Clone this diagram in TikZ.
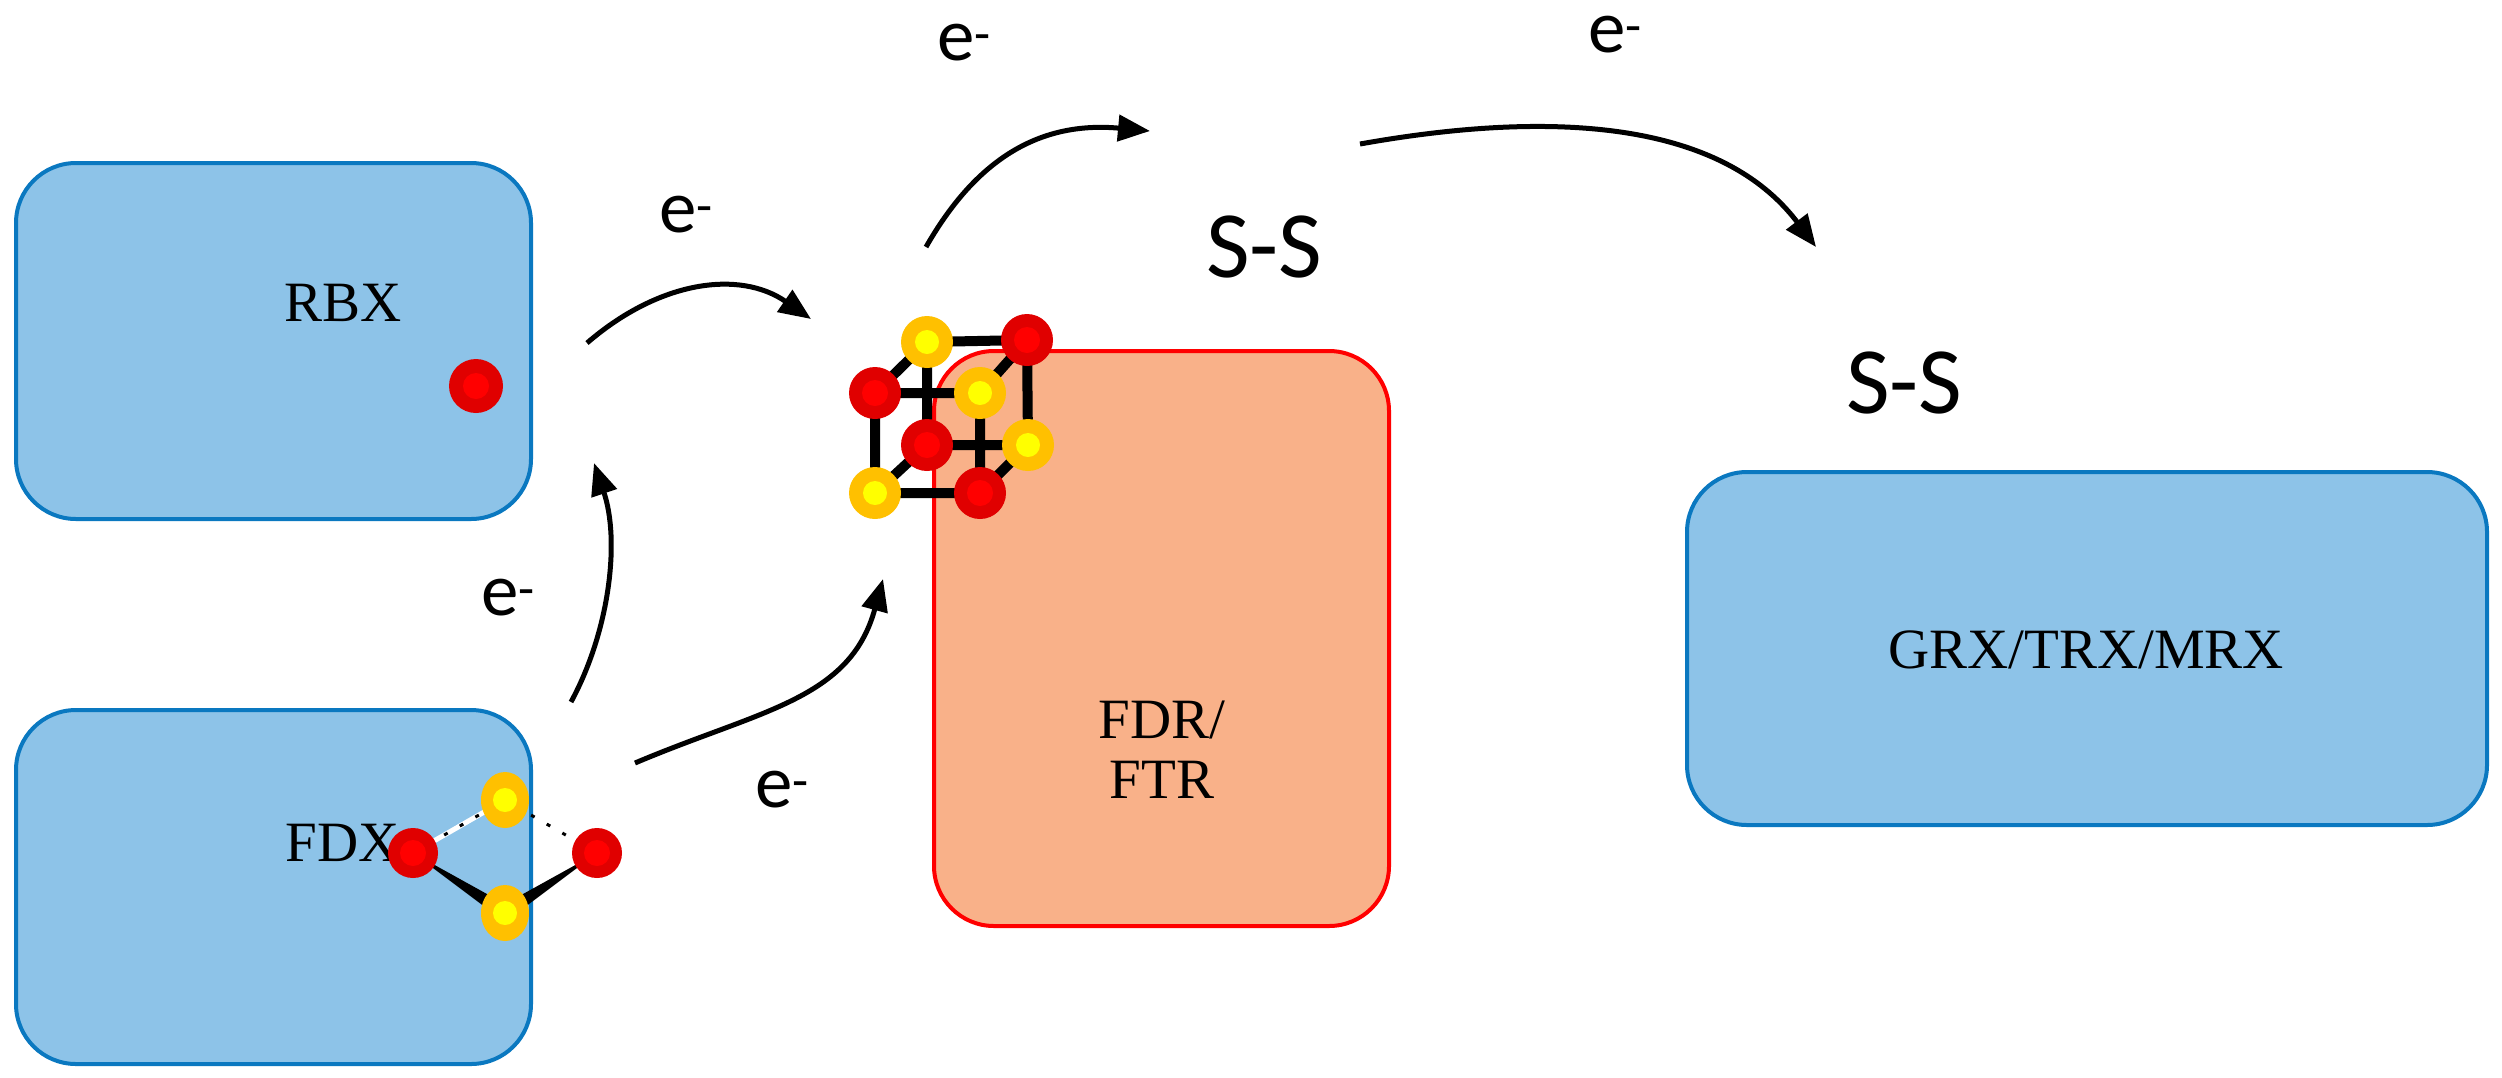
\documentclass[tikz,border=0pt]{standalone}
\usepackage{fontspec}
\setmainfont{Liberation Serif}
\newfontfamily\sans{Carlito}
\usetikzlibrary{arrows.meta,calc,shapes.geometric}
\definecolor{boxblue}{HTML}{8DC3E8}
\definecolor{edgeblue}{HTML}{0A78C0}
\definecolor{boxorange}{HTML}{F9B189}
\definecolor{atomred}{HTML}{E00000}
\definecolor{atomredin}{HTML}{FF0000}
\definecolor{atomyel}{HTML}{FFC000}
\definecolor{atomyelin}{HTML}{FFFF00}
\begin{document}
\begin{tikzpicture}[x=1pt,y=-1pt,
  prot/.style={draw=edgeblue,line width=4pt,fill=boxblue,rounded corners=60pt},
  lbl/.style={font=\fontsize{57}{60}\selectfont},
  el/.style={font=\sans\fontsize{75}{78}\selectfont},
  ss/.style={font=\sans\fontsize{95}{98}\selectfont},
  arr/.style={line width=5pt,-{Triangle[length=32pt,width=26pt]}},
  redat/.style={circle,fill=atomred,minimum size=52pt,inner sep=0pt,path picture={\fill[atomredin] (path picture bounding box.center) circle (13pt);}},
  yelat/.style={circle,fill=atomyel,minimum size=52pt,inner sep=0pt,path picture={\fill[atomyelin] (path picture bounding box.center) circle (12pt);}},
  bond/.style={line width=10pt}]
\useasboundingbox (0,0) rectangle (2502,1077);
\draw[prot] (16,163) rectangle (531,519);
\draw[prot] (16,710) rectangle (531,1064);
\draw[draw=red,line width=4pt,fill=boxorange,rounded corners=60pt] (934,351) rectangle (1389,926);
\draw[prot] (1687,472) rectangle (2487,825);
\node[lbl] (rbx) at (343,303) {RBX};
\node[lbl] (fdx) at (343,843) {FDX};
\node[lbl,align=center] (fdr) at (1162,750) {FDR/\\FTR};
\node[lbl] (grx) at (2086,650) {GRX/TRX/MRX};
\node[ss] (ss1) at (1264,247) {S-S};
\node[ss] (ss2) at (1904,383) {S-S};
\node[redat,minimum size=54pt] (rdot) at (476,386) {};
% cube
\coordinate (a) at (927,342); \coordinate (b) at (1027,340);
\coordinate (c) at (875,393); \coordinate (d) at (980,393);
\coordinate (e) at (927,445); \coordinate (f) at (1028,445);
\coordinate (g) at (875,493); \coordinate (h) at (980,493);
\draw[bond] (a)--(b) (a)--(c) (a)--(e) (c)--(d) (c)--(g) (b)--(d) (b)--(f) (d)--(h) (e)--(f) (e)--(g) (g)--(h) (f)--(h);
\node[yelat] (na) at (a) {}; \node[redat] (nb) at (b) {};
\node[redat] (nc) at (c) {}; \node[yelat] (nd) at (d) {};
\node[redat] (ne) at (e) {}; \node[yelat] (nf) at (f) {};
\node[yelat] (ng) at (g) {}; \node[redat] (nh) at (h) {};
% FDX cluster
\coordinate (p) at (505,800); \coordinate (q) at (413,853);
\coordinate (r) at (597,853); \coordinate (s) at (505,913);
\fill (q) -- ($(s)+(0,-9)$) -- ($(s)+(0,9)$) -- cycle;
\fill (r) -- ($(s)+(0,-9)$) -- ($(s)+(0,9)$) -- cycle;
\draw[white,line width=5pt] (q)--(p);
\draw[black,line width=3pt,dash pattern=on 4pt off 14pt] (q)--(p) (r)--(p);
\node[redat,minimum size=50pt] (nq) at (q) {};
\node[redat,minimum size=50pt] (nr) at (r) {};
\node[yelat,ellipse,minimum width=48pt,minimum height=56pt] (np) at (p) {};
\node[yelat,ellipse,minimum width=48pt,minimum height=56pt] (ns) at (s) {};
% arrows
\coordinate (t1) at (587,343); \coordinate (h1) at (811,319);
\draw[arr] (t1) .. controls (660,280) and (740,270) .. (h1);
\node[el] at (686,215) {e\textsuperscript{-}};
\coordinate (t2) at (571,702); \coordinate (h2) at (594,463);
\draw[arr] (t2) .. controls (610,630) and (620,540) .. (h2);
\node[el] at (508,598) {e\textsuperscript{-}};
\coordinate (t3) at (635,763); \coordinate (h3) at (883,579);
\draw[arr] (t3) .. controls (760,710) and (850,700) .. (h3);
\node[el] at (782,790) {e\textsuperscript{-}};
\coordinate (t4) at (926,247); \coordinate (h4) at (1150,131);
\draw[arr] (t4) .. controls (970,170) and (1030,120) .. (h4);
\node[el] at (964,43) {e\textsuperscript{-}};
\coordinate (t5) at (1360,144); \coordinate (h5) at (1816,247);
\draw[arr] (t5) .. controls (1550,110) and (1720,120) .. (h5);
\node[el] at (1615,35) {e\textsuperscript{-}};
\end{tikzpicture}
\end{document}
